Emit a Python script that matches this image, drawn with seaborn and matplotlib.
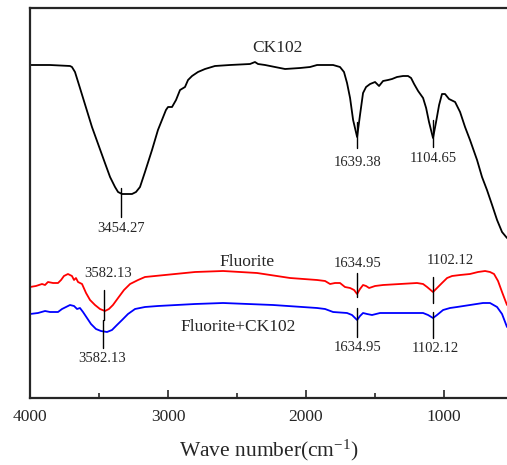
import matplotlib
matplotlib.use("Agg")
import matplotlib.pyplot as plt
import seaborn as sns
import pandas as pd
from matplotlib.ticker import MultipleLocator

# FTIR spectra (wave number in cm-1, transmittance in arbitrary units)
ck102_wn = [4000, 3855, 3710, 3696, 3674, 3638, 3551, 3457, 3420, 3384, 3362, 3333,
            3261, 3232, 3203, 3167, 3116, 3073, 3044, 3015, 3000, 2971, 2942, 2913,
            2877, 2855, 2826, 2783, 2732, 2660, 2551, 2406, 2370, 2348, 2297, 2225,
            2152, 2043, 1971, 1920, 1804, 1754, 1725, 1703, 1681, 1659, 1630, 1609,
            1587, 1565, 1536, 1500, 1471, 1442, 1406, 1377, 1341, 1297, 1261, 1239,
            1217, 1188, 1152, 1130, 1109, 1080, 1058, 1036, 1015, 993, 964, 920,
            884, 848, 812, 761, 725, 689, 652, 616, 580, 544]
ck102_t = [335, 335, 334, 333, 328, 312, 273, 237, 223, 213, 208, 206,
           206, 208, 213, 228, 250, 270, 280, 290, 293, 293, 300, 310,
           313, 320, 324, 328, 331, 334, 335, 336, 338, 336, 335, 333,
           331, 332, 333, 335, 335, 333, 328, 317, 302, 280, 263, 285,
           307, 313, 316, 318, 314, 319, 320, 321, 323, 324, 324, 322,
           316, 309, 302, 292, 278, 262, 278, 295, 306, 306, 301, 298,
           288, 273, 260, 240, 223, 210, 195, 180, 168, 162]

fluorite_wn = [4000, 3957, 3913, 3891, 3870, 3833, 3797, 3775, 3754, 3725, 3696, 3681,
               3667, 3652, 3623, 3594, 3565, 3529, 3493, 3457, 3428, 3399, 3362, 3319,
               3275, 3217, 3167, 3022, 2804, 2601, 2355, 2116, 1920, 1862, 1826, 1790,
               1754, 1718, 1681, 1652, 1630, 1609, 1587, 1565, 1543, 1500, 1442, 1319,
               1196, 1152, 1123, 1080, 1051, 1015, 978, 942, 884, 812, 754, 703,
               667, 638, 609, 580, 558, 544]
fluorite_t = [113, 114, 116, 115, 118, 117, 117, 120, 124, 126, 124, 120,
              122, 118, 116, 107, 100, 95, 91, 89, 91, 95, 102, 110,
              116, 120, 123, 125, 128, 129, 127, 122, 120, 119, 116, 117,
              117, 113, 112, 110, 106, 111, 115, 114, 112, 114, 115, 116,
              117, 116, 113, 108, 112, 117, 122, 124, 125, 126, 128, 129,
              128, 126, 119, 108, 100, 95]

mix_wn = [4000, 3942, 3891, 3855, 3797, 3768, 3739, 3710, 3681, 3659, 3638, 3616,
          3587, 3558, 3522, 3486, 3442, 3406, 3370, 3333, 3290, 3239, 3167, 3073,
          2804, 2601, 2239, 1920, 1862, 1804, 1703, 1667, 1630, 1609, 1587, 1558,
          1522, 1464, 1319, 1152, 1116, 1080, 1051, 1007, 957, 906, 812, 718,
          667, 616, 580, 544]
mix_t = [86, 87, 89, 88, 88, 91, 93, 95, 94, 91, 92, 88,
         82, 76, 71, 69, 68, 70, 75, 80, 86, 91, 93, 94,
         96, 97, 95, 92, 91, 88, 87, 85, 80, 84, 87, 86,
         85, 87, 87, 87, 85, 82, 85, 90, 92, 93, 95, 97,
         97, 93, 86, 73]

# peak labels: (text, x of marker line, y0, y1, x of text, y of text)
peak_labels = [
    ("3454.27", 3341, 212, 183, 3341, 172),
    ("1639.38", 1630, 278, 252, 1630, 237),
    ("1104.65", 1080, 280, 253, 1080, 242),
    ("3582.13", 3464, 110, 80, 3435, 127),
    ("3582.13", 3471, 80, 52, 3478, 42),
    ("1634.95", 1630, 127, 103, 1623, 137),
    ("1634.95", 1630, 92, 63, 1623, 53),
    ("1102.12", 1080, 123, 97, 957, 140),
    ("1102.12", 1080, 88, 62, 1065, 52),
]
curve_names = [("CK102", 2210, 352), ("Fluorite", 2428, 138), ("Fluorite+CK102", 2493, 73)]

sns.set_style("ticks")
plt.rcParams["font.family"] = ["Liberation Serif", "DejaVu Serif"]
plt.rcParams["mathtext.fontset"] = "custom"
plt.rcParams["mathtext.rm"] = "Liberation Serif"
plt.rcParams["mathtext.default"] = "regular"

fig = plt.figure(figsize=(5.07, 4.65), dpi=100)
ax = fig.add_axes([30 / 507, 1 - 398 / 465, 1 - 30 / 507, 390 / 465])

for wn, t, color in [(ck102_wn, ck102_t, "black"),
                     (fluorite_wn, fluorite_t, "red"),
                     (mix_wn, mix_t, "blue")]:
    df = pd.DataFrame({"wn": wn, "t": t})
    sns.lineplot(data=df, x="wn", y="t", color=color, linewidth=1.3,
                 estimator=None, sort=False, ax=ax)

for text, xl, y0, y1, xt, yt in peak_labels:
    ax.plot([xl, xl], [y0, y1], color="black", linewidth=1.0)
    ax.text(xt, yt, text, ha="center", va="center", fontsize=10.5)

for name, xt, yt in curve_names:
    ax.text(xt, yt, name, ha="center", va="center", fontsize=12.5)

ax.set_xlim(4000, 544)
ax.set_ylim(2, 392)
ax.xaxis.set_major_locator(MultipleLocator(1000))
ax.xaxis.set_minor_locator(MultipleLocator(500))
ax.tick_params(axis="x", which="major", direction="in", length=6, width=1.2, labelsize=12.5, pad=8)
ax.tick_params(axis="x", which="minor", direction="in", length=3.5, width=1.2)
ax.set_yticks([])
ax.set_ylabel("")
ax.set_xlabel(r"Wave number(cm$^{-1}$)", fontsize=15.5, labelpad=9)
for side in ["left", "bottom", "top"]:
    ax.spines[side].set_linewidth(1.6)
ax.spines["right"].set_visible(False)

plt.savefig("out.png", dpi=100)
plt.close()
